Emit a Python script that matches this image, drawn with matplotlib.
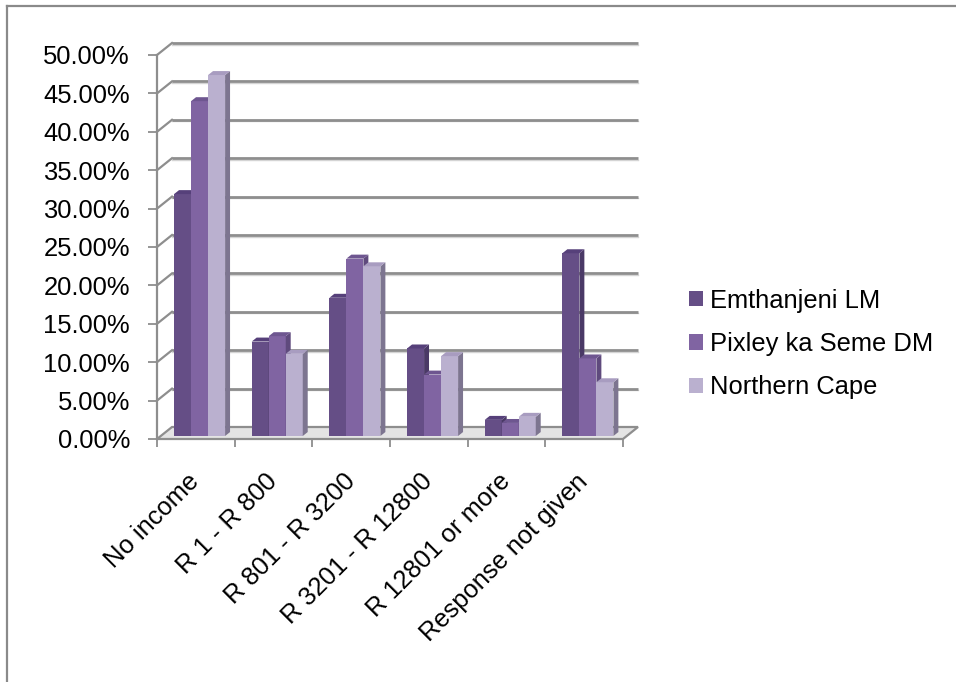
import matplotlib
matplotlib.use("Agg")
import matplotlib.pyplot as plt
from matplotlib.patches import Polygon, Patch
from matplotlib.lines import Line2D
import numpy as np

# ---- data -------------------------------------------------------------
categories = ["No income", "R 1 - R 800", "R 801 - R 3200",
              "R 3201 - R 12800", "R 12801 or more", "Response not given"]
series_names = ["Emthanjeni LM", "Pixley ka Seme DM", "Northern Cape"]
emthanjeni = [31.5, 12.3, 18.0, 11.4, 2.1, 23.8]
pixley = [43.6, 13.0, 23.1, 8.0, 1.7, 10.1]
northern_cape = [47.0, 10.7, 22.1, 10.4, 2.5, 7.0]
y_ticks = np.arange(0, 55, 5)
y_tick_labels = [f"{v:.2f}%" for v in y_ticks]

# ---- style --------------------------------------------------------------
front_colors = ["#654e86", "#8064a2", "#bab0cf"]
side_colors = ["#4a3966", "#5f4a7d", "#7d7590"]
top_colors = ["#56407a", "#6e5690", "#a89cc0"]
grid_color = "#8e8e8e"
FONT = 18.4

plt.rcParams["font.family"] = ["Liberation Sans", "DejaVu Sans"]

W, H = 956, 682
fig = plt.figure(figsize=(W / 100, H / 100), dpi=100)
fig.patch.set_facecolor("white")

# front plane of the plot (pixel geometry)
ax_left, ax_right, ax_top, ax_bottom = 157, 623, 55, 439
ax = fig.add_axes([ax_left / W, (H - ax_bottom) / H,
                   (ax_right - ax_left) / W, (ax_bottom - ax_top) / H])
n = len(categories)
ax.set_xlim(0, n)
ax.set_ylim(0, 50)
ax.set_facecolor("none")

# depth of the pseudo-3D box, in pixels, converted to data units
px_per_x = (ax_right - ax_left) / n
px_per_y = (ax_bottom - ax_top) / 50
depth_dx = 15 / px_per_x
depth_dy = 12 / px_per_y

# floor
floor = Polygon([(0, 0), (n, 0), (n + depth_dx, depth_dy), (depth_dx, depth_dy)],
                closed=True, facecolor="#e4e4e4", edgecolor=grid_color,
                linewidth=1.6, clip_on=False, zorder=1)
ax.add_patch(floor)

# back wall and side wall gridlines
for v in y_ticks[1:]:
    ax.plot([depth_dx, n + depth_dx], [v + depth_dy, v + depth_dy],
            color=grid_color, lw=2.0, clip_on=False, zorder=2,
            solid_capstyle="butt")
    ax.plot([depth_dx, n + depth_dx], [v + depth_dy - 0.2, v + depth_dy - 0.2],
            color="#d4d4d4", lw=1.0, clip_on=False, zorder=1.9)
    ax.plot([0, depth_dx], [v, v + depth_dy], color=grid_color, lw=1.6,
            clip_on=False, zorder=2)

# bars: front face via ax.bar, side and top faces as parallelograms
bar_w = 0.219
front_depth = 0.25   # position of the bar fronts inside the box depth
bar_depth = 0.33     # thickness of the bars relative to the box depth
base = front_depth * depth_dy
shift_x = front_depth * depth_dx
ddx, ddy = bar_depth * depth_dx, bar_depth * depth_dy

all_series = [emthanjeni, pixley, northern_cape]
for i in range(n):
    for j, vals in enumerate(all_series):
        v = vals[i]
        xl = i + 0.5 - 1.5 * bar_w + j * bar_w + shift_x
        xr = xl + bar_w
        z = 3 + i * 0.1 + j * 0.02
        ax.bar(xl, v, width=bar_w, bottom=base, align="edge",
               color=front_colors[j], linewidth=0, zorder=z, clip_on=False)
        top = base + v
        side = Polygon([(xr, base), (xr, top), (xr + ddx, top + ddy),
                        (xr + ddx, base + ddy)], closed=True,
                       facecolor=side_colors[j], edgecolor="none",
                       zorder=z + 0.01, clip_on=False)
        cap = Polygon([(xl, top), (xr, top), (xr + ddx, top + ddy),
                       (xl + ddx, top + ddy)], closed=True,
                      facecolor=top_colors[j], edgecolor="none",
                      zorder=z + 0.01, clip_on=False)
        ax.add_patch(side)
        ax.add_patch(cap)

# axes, ticks and labels
for s in ["top", "right", "bottom"]:
    ax.spines[s].set_visible(False)
ax.spines["left"].set_color(grid_color)
ax.spines["left"].set_linewidth(1.6)
ax.spines["left"].set_zorder(2.5)

ax.set_yticks(y_ticks)
ax.set_yticklabels(y_tick_labels)
ax.tick_params(axis="y", length=6.5, width=1.3, color=grid_color,
               pad=13, labelsize=FONT, labelcolor="black")

ax.set_xticks(np.arange(n + 1))
ax.set_xticklabels([""] * (n + 1))
ax.tick_params(axis="x", which="major", length=5.5, width=1.3,
               color=grid_color, direction="out")
ax.set_xticks(np.arange(n) + 0.5, minor=True)
ax.set_xticklabels(categories, minor=True, rotation=45, ha="right",
                   va="center", rotation_mode="anchor", fontsize=FONT)
ax.tick_params(axis="x", which="minor", length=0, pad=28)

# legend
handles = [Patch(facecolor=c, edgecolor="none") for c in front_colors]
ax.legend(handles, series_names, loc="center left",
          bbox_to_anchor=(689 / W, 1 - 344 / H), bbox_transform=fig.transFigure,
          frameon=False, fontsize=FONT, borderpad=0, borderaxespad=0,
          handlelength=0.55, handleheight=0.55, handletextpad=0.28,
          labelspacing=0.76)

# chart area border (top and left edges)
fig.add_artist(Line2D([7 / W, 1], [1 - 6 / H, 1 - 6 / H],
                      transform=fig.transFigure, color="#8a8a8a", lw=1.6))
fig.add_artist(Line2D([7 / W, 7 / W], [0, 1 - 6 / H],
                      transform=fig.transFigure, color="#8a8a8a", lw=1.6))

fig.savefig("out.png", dpi=100)
